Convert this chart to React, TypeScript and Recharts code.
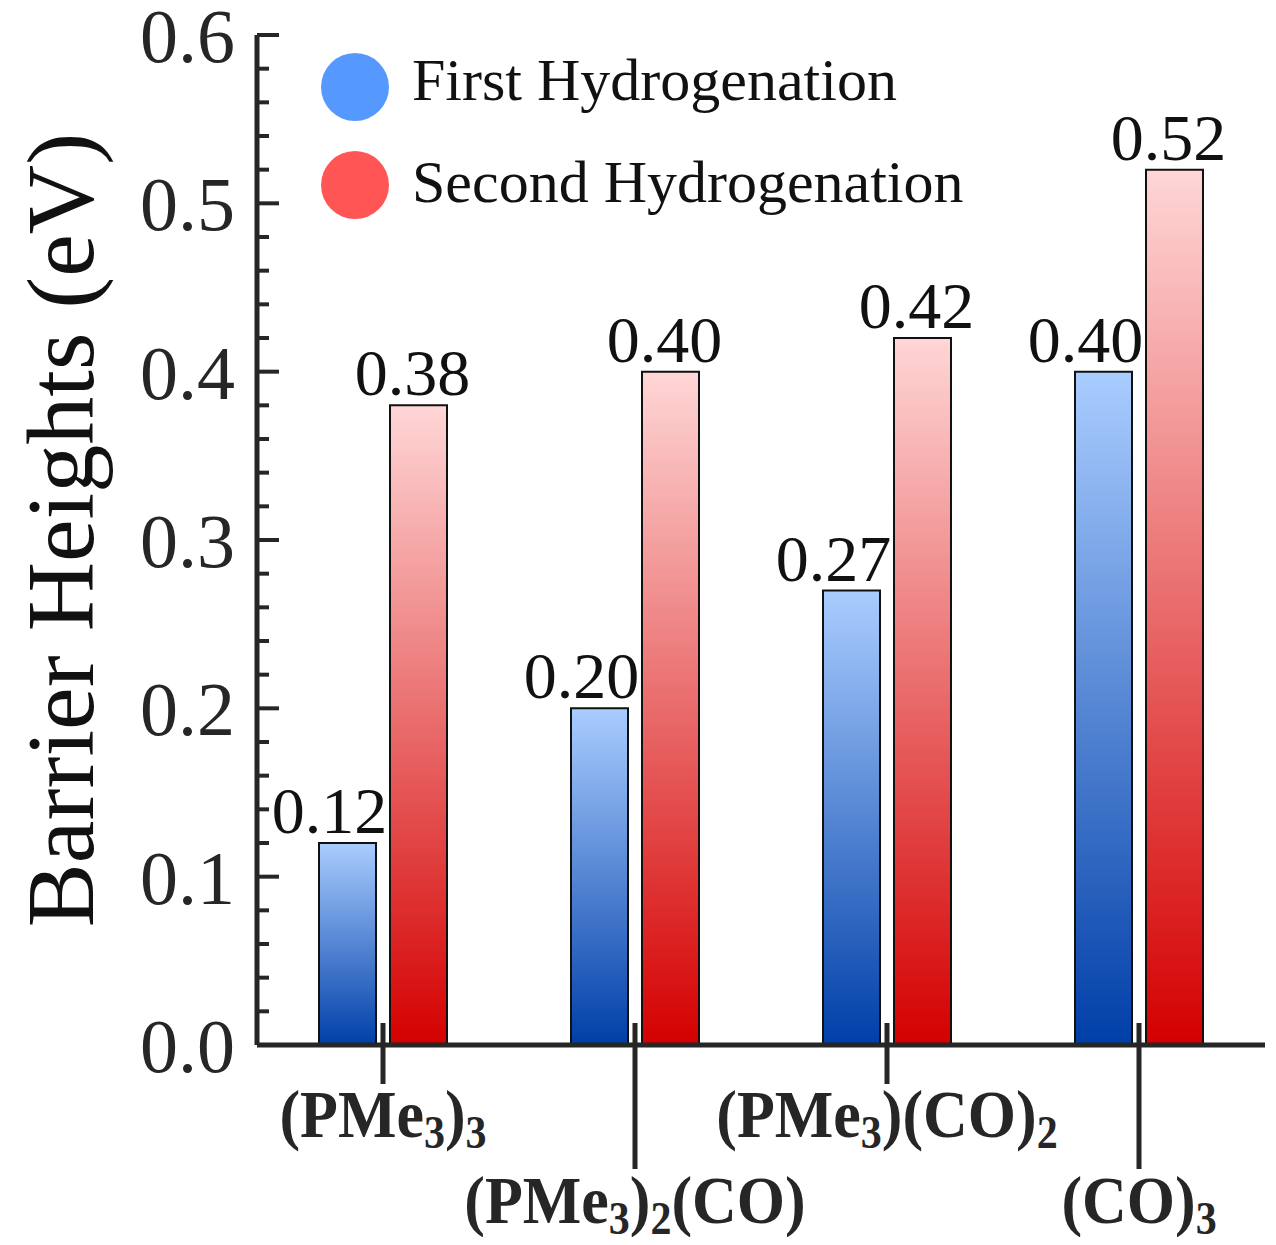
import { Bar, BarChart, Label, LabelList, Legend, XAxis, YAxis } from "recharts";

const categories = ["(PMe3)3", "(PMe3)2(CO)", "(PMe3)(CO)2", "(CO)3"];
const firstHydrogenation = [0.12, 0.2, 0.27, 0.4];
const secondHydrogenation = [0.38, 0.4, 0.42, 0.52];
const yTicks = [
  0, 0.02, 0.04, 0.06, 0.08, 0.1, 0.12, 0.14, 0.16, 0.18, 0.2, 0.22, 0.24, 0.26, 0.28, 0.3,
  0.32, 0.34, 0.36, 0.38, 0.4, 0.42, 0.44, 0.46, 0.48, 0.5, 0.52, 0.54, 0.56, 0.58, 0.6,
];

const data = categories.map((name, i) => ({
  name,
  first: firstHydrogenation[i],
  second: secondHydrogenation[i],
}));

const FONT = "'Liberation Serif', 'Times New Roman', serif";
const INK = "#262626";

// digits in the formulas are subscripts
function formula(label: string) {
  const parts = label.split(/(\d+)/).filter((s) => s !== "");
  let down = false;
  return parts.map((p, i) => {
    const isSub = /^\d+$/.test(p);
    const dy = isSub && !down ? 10 : !isSub && down ? -10 : 0;
    down = isSub;
    return (
      <tspan key={i} dy={dy} fontSize={isSub ? 42 : 62}>
        {p}
      </tspan>
    );
  });
}

function XTick(props: any) {
  const { x, y, payload, index } = props;
  const long = index % 2 === 1;
  return (
    <g>
      <line x1={x} x2={x} y1={y - 22} y2={y + (long ? 124 : 39)} stroke={INK} strokeWidth={5} />
      <g transform={`translate(${x},${y + (long ? 178 : 92)}) scale(1,1.1)`}>
        <text x={0} y={0} textAnchor="middle" fontFamily={FONT} fontWeight="bold" fill={INK}>
          {formula(payload.value)}
        </text>
      </g>
    </g>
  );
}

function YTick(props: any) {
  const { x, y, payload } = props;
  const major = Math.round(payload.value * 100) % 10 === 0;
  return (
    <g>
      <line x1={x} x2={x + (major ? 22 : 12)} y1={y} y2={y} stroke={INK} strokeWidth={4} />
      {major && (
        <text x={x - 22} y={y} dy={27} textAnchor="end" fontFamily={FONT} fontSize={76} fill={INK}>
          {payload.value.toFixed(1)}
        </text>
      )}
    </g>
  );
}

function YLabel() {
  return (
    <text
      transform="translate(85,522) rotate(-90)"
      textAnchor="middle"
      fontFamily={FONT}
      fontSize={96}
      fill="#111"
    >
      Barrier Heights (eV)
    </text>
  );
}

function valueLabel(dx: number) {
  return (p: any) => (
    <text
      x={p.x + p.width / 2 + dx}
      y={p.y - 10}
      textAnchor="middle"
      fontFamily={FONT}
      fontSize={66}
      fill="#111"
    >
      {Number(p.value).toFixed(2)}
    </text>
  );
}

function LegendBox() {
  return (
    <svg width={700} height={200}>
      <circle cx={47} cy={39} r={34} fill="#5599ff" />
      <text x={104} y={52} fontFamily={FONT} fontSize={60} fill="#111">
        First Hydrogenation
      </text>
      <circle cx={47} cy={137} r={34} fill="#ff5555" />
      <text x={104} y={154} fontFamily={FONT} fontSize={60} fill="#111">
        Second Hydrogenation
      </text>
    </svg>
  );
}

export default function App() {
  return (
    <div style={{ width: 1260, height: 1229 }}>
      <BarChart
        width={1260}
        height={1237}
        data={data}
        margin={{ top: 27, right: 3, bottom: 10, left: 9 }}
        barSize={57}
        barGap={14}
      >
        <defs>
          <linearGradient id="gradBlue" x1="0" y1="0" x2="0" y2="1">
            <stop offset="0%" stopColor="#aacdff" />
            <stop offset="100%" stopColor="#003fa8" />
          </linearGradient>
          <linearGradient id="gradRed" x1="0" y1="0" x2="0" y2="1">
            <stop offset="0%" stopColor="#ffd6d6" />
            <stop offset="100%" stopColor="#d40000" />
          </linearGradient>
        </defs>
        <XAxis
          dataKey="name"
          height={190}
          tickSize={0}
          tickMargin={0}
          tickLine={false}
          axisLine={{ stroke: INK, strokeWidth: 5 }}
          tick={<XTick />}
          interval={0}
        />
        <YAxis
          width={240}
          domain={[0, 0.6]}
          ticks={yTicks}
          interval={0}
          tickSize={0}
          tickMargin={0}
          tickLine={false}
          axisLine={{ stroke: INK, strokeWidth: 5 }}
          tick={<YTick />}
        >
          <Label content={<YLabel />} />
        </YAxis>
        <Legend
          layout="horizontal"
          verticalAlign="middle"
          align="center"
          content={<LegendBox />}
          wrapperStyle={{ top: 40, left: 300, width: 700, height: 200 }}
        />
        <Bar dataKey="first" name="First Hydrogenation" fill="url(#gradBlue)" stroke="#111" strokeWidth={2} isAnimationActive={false}>
          <LabelList dataKey="first" content={valueLabel(-18)} />
        </Bar>
        <Bar dataKey="second" name="Second Hydrogenation" fill="url(#gradRed)" stroke="#111" strokeWidth={2} isAnimationActive={false}>
          <LabelList dataKey="second" content={valueLabel(-6)} />
        </Bar>
      </BarChart>
    </div>
  );
}
